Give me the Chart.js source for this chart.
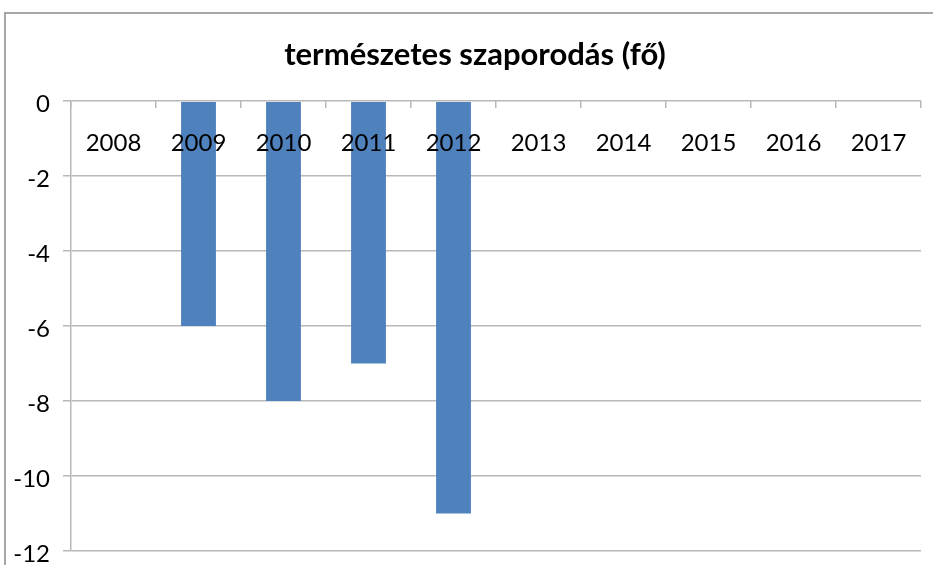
<!DOCTYPE html>
<html>
<head>
<meta charset="utf-8">
<script src="https://cdn.jsdelivr.net/npm/chart.js@4"></script>
<style>
    html, body { margin: 0; padding: 0; background: #fff; }
    #wrap { width: 933px; height: 565px; }
</style>
</head>
<body>
<div id="wrap"><canvas id="chart" width="933" height="565"></canvas></div>
<script>
// Data
const years = ['2008', '2009', '2010', '2011', '2012', '2013', '2014', '2015', '2016', '2017'];
const growth = [0, -6, -8, -7, -11, 0, 0, 0, 0, 0];
const yMin = -12;
const yMax = 0;
const yStep = 2;

const titleText = 'természetes szaporodás (fő)';
const barColor = '#4F81BD';
const gridColor = '#B8B8B8';
const tickFont = { family: 'Lato', size: 24 };

// Grey frame of the chart object (top and left edges visible)
const framePlugin = {
    id: 'frame',
    afterLayout(chart) {
        // let the y labels spill left of the narrow axis box
        chart.scales.y.left = 0;
    },
    beforeDraw(chart) {
        const ctx = chart.ctx;
        ctx.save();
        ctx.strokeStyle = '#A6A6A6';
        ctx.lineWidth = 2;
        ctx.beginPath();
        ctx.moveTo(5, chart.height + 2);
        ctx.lineTo(5, 13);
        ctx.lineTo(chart.width + 2, 13);
        ctx.stroke();
        ctx.restore();
    }
};

const ctx = document.getElementById('chart').getContext('2d');

new Chart(ctx, {
    type: 'bar',
    data: {
        labels: years,
        datasets: [{
            data: growth,
            backgroundColor: barColor,
            borderWidth: 0,
            barPercentage: 0.41,
            categoryPercentage: 1.0,
        }]
    },
    options: {
        responsive: false,
        animation: false,
        layout: {
            padding: { left: 29, right: 12, top: 0, bottom: 0 }
        },
        plugins: {
            legend: { display: false },
            tooltip: { enabled: false },
            title: {
                display: true,
                text: titleText,
                color: '#000',
                font: { family: 'Lato', size: 31, weight: 'bold' },
                padding: { top: 36, bottom: 28 }
            }
        },
        scales: {
            x: {
                position: { y: 0 },
                offset: true,
                grid: {
                    display: true,
                    drawOnChartArea: false,
                    drawTicks: true,
                    tickLength: 7,
                    color: gridColor,
                    lineWidth: 1.5,
                    offset: true
                },
                border: { display: false },
                ticks: {
                    z: 1,
                    color: '#000',
                    font: tickFont,
                    padding: 21,
                    maxRotation: 0,
                    autoSkip: false
                },
                afterFit(scale) {
                    scale.height = 0;
                    scale.paddingTop = 0;
                    scale.paddingBottom = 0;
                    scale.paddingLeft = 0;
                    scale.paddingRight = 0;
                }
            },
            y: {
                min: yMin,
                max: yMax,
                ticks: {
                    stepSize: yStep,
                    color: '#000',
                    font: tickFont,
                    padding: 13,
                    labelOffset: 3
                },
                grid: {
                    color: gridColor,
                    lineWidth: 1.5,
                    tickLength: 8
                },
                border: { color: gridColor, width: 1.5 },
                afterFit(scale) {
                    scale.width = 42;
                    scale.paddingTop = 0;
                    scale.paddingBottom = 14;
                }
            }
        }
    },
    plugins: [framePlugin]
});
</script>
</body>
</html>
